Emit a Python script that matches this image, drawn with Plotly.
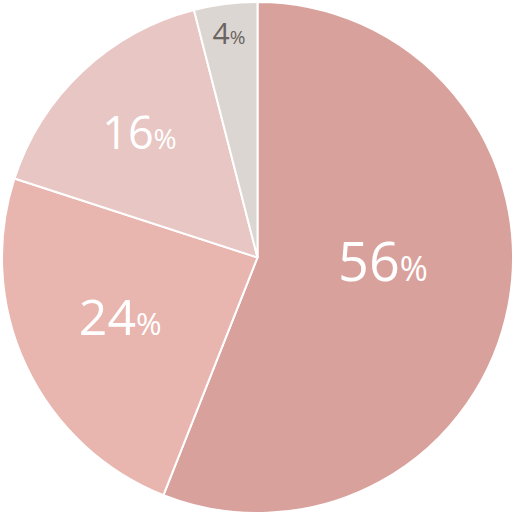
import plotly.graph_objects as go

labels = ['A', 'B', 'C', 'D']
values = [56, 24, 16, 4]
colors = ['#d9a19c', '#e8b5af', '#e8c6c3', '#dbd6d2']
text_colors = ['white', 'white', 'white', '#6b6461']
num_sizes = [54, 50, 45, 30]
pct_sizes = [34, 31, 28, 19]


def label(v, ns, ps):
    return "<span style='font-size:%dpx'>%d</span><span style='font-size:%dpx'>%%</span>" % (ns, v, ps)


blank = "<span style='font-size:8px'> </span>"
texts = [label(v, ns, ps) for v, ns, ps in zip(values, num_sizes, pct_sizes)]
# a blank line under the two big labels lifts them a little
texts[0] = texts[0] + "<br>" + blank
texts[1] = texts[1] + "<br>" + blank

fig = go.Figure(go.Pie(
    labels=labels,
    values=values,
    text=texts,
    textinfo='text',
    textposition='inside',
    insidetextorientation='horizontal',
    sort=False,
    direction='clockwise',
    rotation=0,
    marker=dict(colors=colors, line=dict(color='white', width=2)),
    textfont=dict(family='Open Sans', size=[44, 20, 28, 28], color=text_colors),
    hoverinfo='skip',
    showlegend=False,
))

fig.update_layout(
    width=515, height=515,
    margin=dict(l=2, r=2, t=2, b=2),
    paper_bgcolor='white',
    plot_bgcolor='white',
)

# drop the browser's default body margin so the figure sits at the top-left
fig.write_html("out.html", config={'displayModeBar': False},
               post_script="document.body.style.margin='0';")
